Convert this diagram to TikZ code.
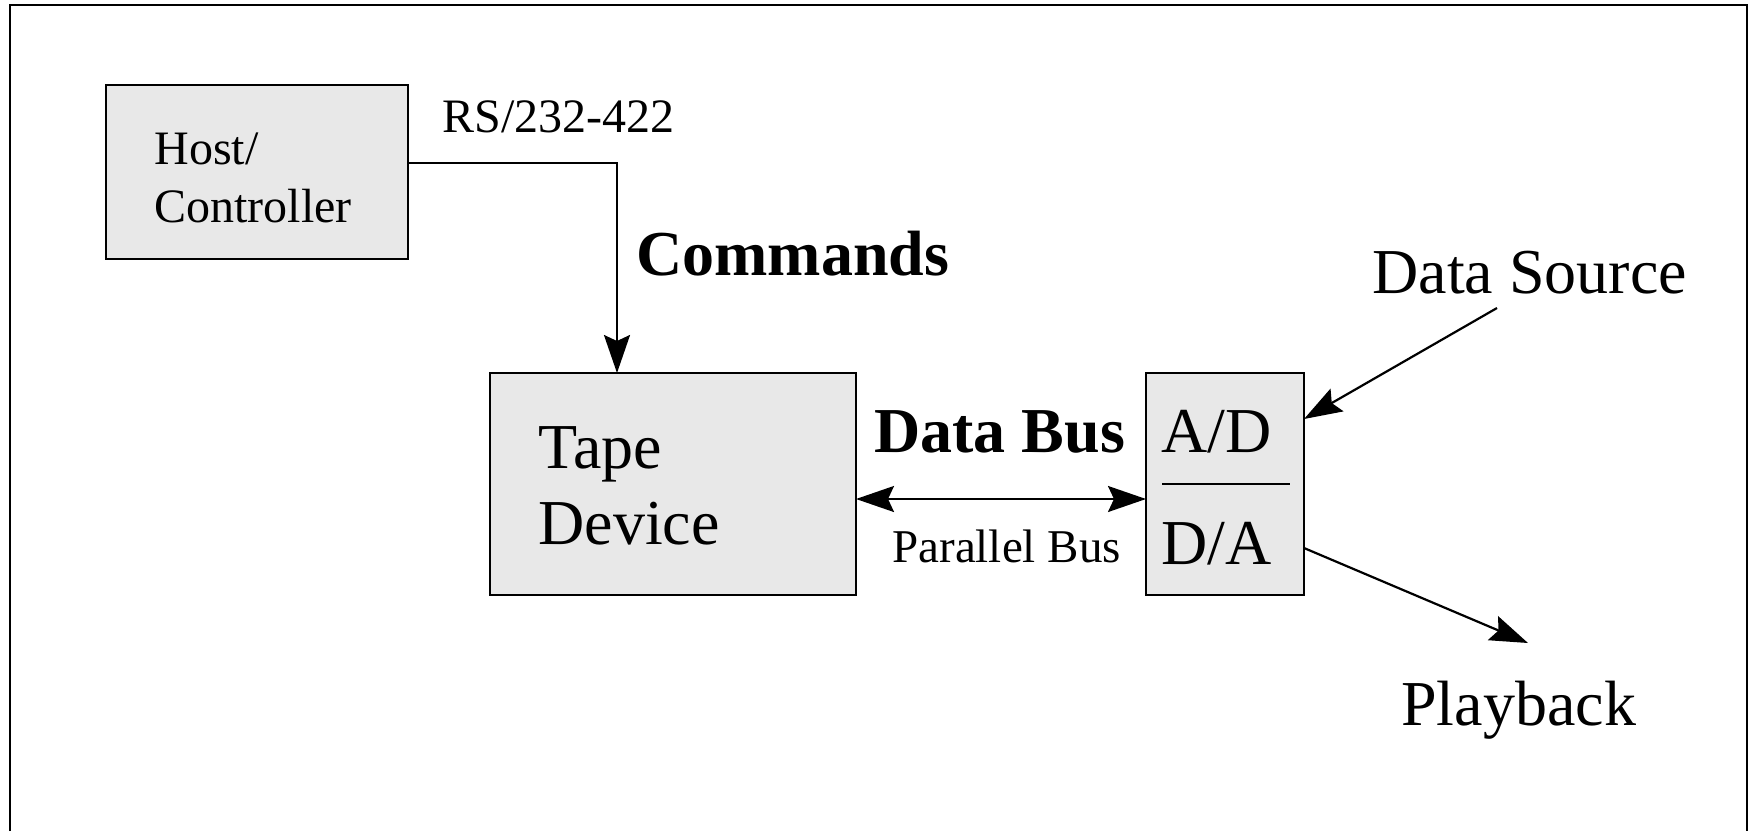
\documentclass[tikz,border=0pt]{standalone}
\usepackage{fontspec}
\setmainfont{Liberation Serif}
\usetikzlibrary{arrows.meta}
\definecolor{boxgray}{RGB}{232,232,232}
\tikzset{
  block/.style={draw, line width=1pt, fill=boxgray, inner sep=0pt, outer sep=0pt},
  bigtext/.style={font=\fontsize{32}{38}\selectfont, inner sep=0pt, anchor=base west},
  boldtext/.style={font=\fontsize{32}{38}\selectfont\bfseries, inner sep=0pt, anchor=base west},
  smalltext/.style={font=\fontsize{24}{29}\selectfont, inner sep=0pt, anchor=base west},
  conn/.style={line width=1.1pt, -{Stealth[length=19pt,width=13pt,inset=3pt]}},
  biconn/.style={line width=1.1pt, {Stealth[length=19pt,width=13pt,inset=3pt]}-{Stealth[length=19pt,width=13pt,inset=3pt]}},
}
\begin{document}
\begin{tikzpicture}[x=0.5pt,y=-0.5pt]
  \useasboundingbox (0,0) rectangle (1752,831);
  % outer frame, open at the bottom
  \draw[line width=1pt] (10,831) -- (10,5) -- (1747,5) -- (1747,831);

  % blocks
  \node[block, minimum width=151pt, minimum height=87pt] (host) at (257,172) {};
  \node[block, minimum width=183pt, minimum height=111pt] (tape) at (673,484) {};
  \node[block, minimum width=79pt, minimum height=111pt] (conv) at (1225,484) {};
  \draw[line width=1pt] ([xshift=8pt]conv.west) -- ([xshift=-7pt]conv.east);

  % block labels
  \node[smalltext] (hostA) at (154,164) {Host/};
  \node[smalltext] (hostB) at (154,222) {Controller};
  \node[bigtext] (tapeA) at (538,468) {Tape};
  \node[bigtext] (tapeB) at (538,544) {Device};
  \node[bigtext] (ad) at (1161,452) {A/D};
  \node[bigtext] (da) at (1161,564) {D/A};

  % connector labels
  \node[smalltext] (rs) at (442,132) {RS/232-422};
  \node[boldtext] (cmd) at (636,275) {Commands};
  \node[boldtext] (dbus) at (874,452) {Data Bus};
  \node[font=\fontsize{23.5}{28}\selectfont, inner sep=0pt, anchor=base west] (pbus) at (892,562) {Parallel Bus};
  \node[bigtext] (src) at (1372,293) {Data Source};
  \node[bigtext] (play) at (1401,725) {Playback};

  % routing points
  \coordinate (bend) at (617,163);
  \coordinate (busy) at (1000,499);
  \coordinate (srcend) at (1497,308);
  \coordinate (adin) at (1304,419);
  \coordinate (daout) at (1304,548);
  \coordinate (playend) at (1528,643);

  % connectors
  \draw[conn] (host.east |- bend) -| (tape.north -| bend);
  \draw[biconn] (tape.east |- busy) -- (conv.west |- busy);
  \draw[conn] (srcend) -- (conv.east |- adin);
  \draw[conn] (conv.east |- daout) -- (playend);
\end{tikzpicture}
\end{document}
